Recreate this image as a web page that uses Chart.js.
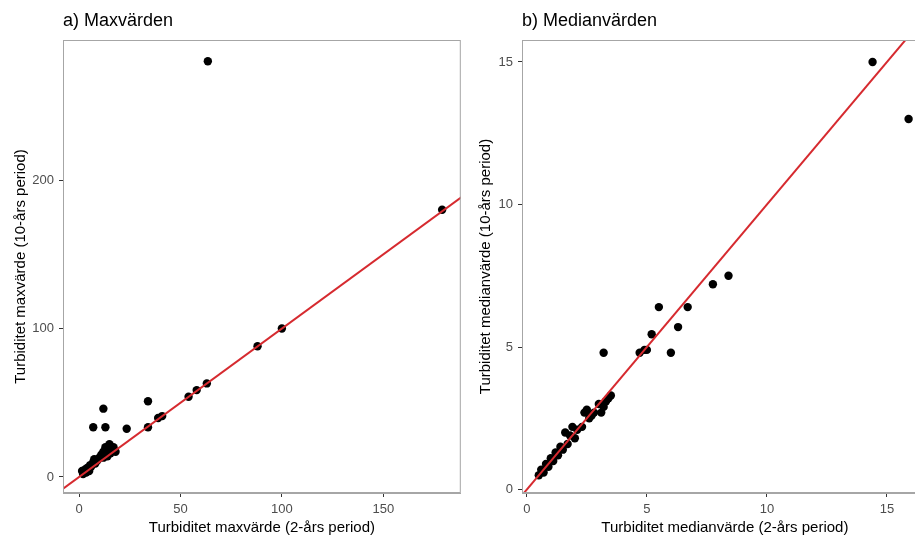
<!DOCTYPE html>
<html>
<head>
<meta charset="utf-8">
<script src="https://cdn.jsdelivr.net/npm/chart.js@4/dist/chart.umd.min.js"></script>
<style>
  html, body { margin: 0; padding: 0; background: #fff; overflow: hidden; }
  #wrap { position: relative; width: 915px; height: 538px; overflow: hidden; }
  .panel { position: absolute; top: 0; }
</style>
</head>
<body>
<div id="wrap">
  <div class="panel" style="left:0;width:465px;height:538px"><canvas id="chartA"></canvas></div>
  <div class="panel" style="left:465px;width:467px;height:538px"><canvas id="chartB"></canvas></div>
</div>
<script>
// a) Maxvärden: 2-års period (x) mot 10-års period (y)
const maxX2 = [1.5, 2, 3, 3.5, 4, 5, 5.5, 6, 7, 7.5, 8, 9, 10, 11, 12, 13, 14, 15, 15.5, 16, 17, 18, 14, 12,
  7, 13, 12, 23.5, 34, 34, 39, 41, 54, 58, 63, 88, 100, 179, 63.5]
const maxY10 = [4, 2, 5, 3, 6, 4, 8, 7, 10, 12, 9, 11, 13, 15, 17, 20, 19, 22, 16, 18, 20, 17, 14, 13,
  33.5, 33.5, 46, 32.5, 51, 33.5, 39.7, 41, 54, 58.5, 63, 88, 100, 180, 280]
const maxXTicks = [0, 50, 100, 150]
const maxYTicks = [0, 100, 200]

// b) Medianvärden
const medX2 = [0.5, 0.6, 0.7, 0.8, 0.9, 1.0, 1.1, 1.2, 1.3, 1.4, 1.5, 1.6, 1.7, 1.8, 1.9, 2.0, 2.1, 2.3, 2.4, 2.5,
  2.6, 2.7, 2.8, 3.0, 3.1, 3.2, 3.3, 3.4, 3.5, 3.2, 4.7, 4.9, 5.0, 5.2, 5.5, 6.0, 6.3, 6.7, 7.75, 8.4, 14.4, 15.9]
const medY10 = [0.5, 0.7, 0.6, 0.9, 0.8, 1.1, 1.0, 1.3, 1.2, 1.5, 1.4, 2.0, 1.6, 1.9, 2.2, 1.8, 2.1, 2.2, 2.7, 2.8,
  2.5, 2.6, 2.7, 3.0, 2.7, 2.9, 3.1, 3.2, 3.3, 4.8, 4.8, 4.9, 4.9, 5.45, 6.4, 4.8, 5.7, 6.4, 7.2, 7.5, 15, 13]
const medXTicks = [0, 5, 10, 15]
const medYTicks = [0, 5, 10, 15]

const FONT = "'Liberation Sans', Arial, sans-serif"
const GREY = '#4d4d4d'
const LINE_RED = '#d62a2f'

const framePlugin = {
  id: 'frame',
  afterDatasetsDraw(chart, args, opts) {
    const a = chart.chartArea
    const ctx = chart.ctx
    ctx.save()
    ctx.strokeStyle = '#a6a6a6'
    ctx.lineWidth = 1
    ctx.strokeRect(a.left + 0.5, a.top + 0.5, a.right - a.left - 1, a.bottom - a.top - 1)
    ctx.fillStyle = '#000'
    ctx.font = '18px ' + FONT
    ctx.textBaseline = 'middle'
    ctx.textAlign = 'left'
    ctx.fillText(opts.text, a.left, 21)
    ctx.restore()
  }
}

function makePanel(id, cfg) {
  const pts = cfg.xs.map((x, i) => ({ x: x, y: cfg.ys[i] }))
  const ctx = document.getElementById(id).getContext('2d')
  const axisCommon = {
    type: 'linear',
    grid: { display: true, drawOnChartArea: false, drawTicks: true, tickLength: 4, tickColor: '#333' },
    border: { display: true, color: '#a6a6a6' }
  }
  return new Chart(ctx, {
    type: 'scatter',
    data: {
      datasets: [
        {
          // y = x linje
          type: 'line',
          data: [{ x: cfg.lineFrom, y: cfg.lineFrom }, { x: cfg.lineTo, y: cfg.lineTo }],
          borderColor: LINE_RED,
          borderWidth: 2,
          pointRadius: 0,
          fill: false,
          clip: 0
        },
        {
          data: pts,
          backgroundColor: '#000',
          borderColor: '#000',
          pointRadius: 4.2,
          borderWidth: 0,
          clip: false
        }
      ]
    },
    options: {
      responsive: false,
      animation: false,
      maintainAspectRatio: false,
      layout: { padding: { top: 40, right: cfg.padRight, left: 0, bottom: 0 } },
      plugins: {
        legend: { display: false },
        tooltip: { enabled: false },
        frame: { text: cfg.title }
      },
      scales: {
        x: Object.assign({}, axisCommon, {
          min: cfg.xMin, max: cfg.xMax,
          afterBuildTicks: s => { s.ticks = cfg.xTicks.map(v => ({ value: v })) },
          afterFit: s => { s.height = 45 },
          ticks: { color: GREY, font: { family: FONT, size: 13 }, padding: 5, maxRotation: 0 },
          title: { display: true, text: cfg.xTitle, color: '#000', font: { family: FONT, size: 15 }, padding: { top: 0, bottom: 1 } }
        }),
        y: Object.assign({}, axisCommon, {
          min: cfg.yMin, max: cfg.yMax,
          afterBuildTicks: s => { s.ticks = cfg.yTicks.map(v => ({ value: v })) },
          afterFit: s => { s.width = cfg.yWidth },
          ticks: { color: GREY, font: { family: FONT, size: 13 }, padding: 5 },
          title: { display: true, text: cfg.yTitle, color: '#000', font: { family: FONT, size: 15 }, padding: { top: 12, bottom: 0 } }
        })
      }
    },
    plugins: [framePlugin]
  })
}

function sizeCanvas(id, w, h) {
  const c = document.getElementById(id)
  c.width = w; c.height = h
  c.style.width = w + 'px'; c.style.height = h + 'px'
}
sizeCanvas('chartA', 465, 538)
sizeCanvas('chartB', 467, 538)

makePanel('chartA', {
  xs: maxX2, ys: maxY10, xTicks: maxXTicks, yTicks: maxYTicks,
  xMin: -7.9, xMax: 188.2, yMin: -10.8, yMax: 294.3,
  lineFrom: -50, lineTo: 400,
  yWidth: 63, padRight: 4,
  title: 'a) Maxvärden',
  xTitle: 'Turbiditet maxvärde (2-års period)',
  yTitle: 'Turbiditet maxvärde (10-års period)'
})

makePanel('chartB', {
  xs: medX2, ys: medY10, xTicks: medXTicks, yTicks: medYTicks,
  xMin: -0.2, xMax: 16.7, yMin: -0.12, yMax: 15.77,
  lineFrom: -5, lineTo: 25,
  yWidth: 57, padRight: 4,
  title: 'b) Medianvärden',
  xTitle: 'Turbiditet medianvärde (2-års period)',
  yTitle: 'Turbiditet medianvärde (10-års period)'
})
</script>
</body>
</html>
